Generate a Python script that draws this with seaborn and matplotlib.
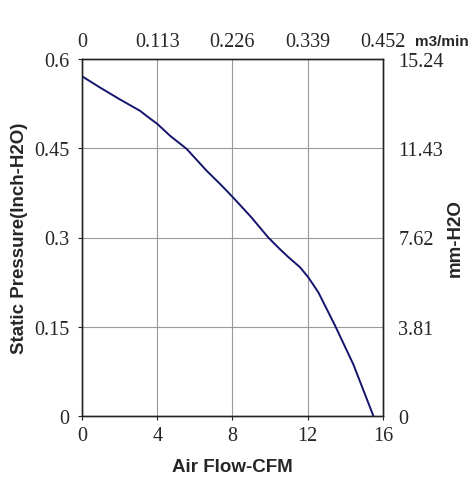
import matplotlib
matplotlib.use("Agg")
import matplotlib.pyplot as plt
import seaborn as sns
import pandas as pd

# Data
cfm = [0, 0.96, 2.02, 3.08, 3.53, 4.0, 4.68, 5.56, 6.63, 7.34, 8.04, 9.0, 9.9, 10.5, 10.97, 11.59, 12.03, 12.56, 13.45, 14.42, 15.49]
pressure = [0.571, 0.552, 0.532, 0.513, 0.502, 0.491, 0.471, 0.449, 0.412, 0.390, 0.367, 0.334, 0.300, 0.281, 0.267, 0.250, 0.233, 0.208, 0.152, 0.087, 0.0]

x_ticks = [0, 4, 8, 12, 16]
y_ticks = [0, 0.15, 0.3, 0.45, 0.6]
y_tick_labels = ["0", "0.15", "0.3", "0.45", "0.6"]
top_tick_labels = ["0", "0.113", "0.226", "0.339", "0.452"]
right_tick_labels = ["0", "3.81", "7.62", "11.43", "15.24"]

sns.set_style("white")
plt.rcParams['font.family'] = ['Liberation Serif', 'DejaVu Serif']

fig = plt.figure(figsize=(4.75, 4.85), dpi=100)
ax = fig.add_axes([82/475, 1-417/485, (383-82)/475, (417-60)/485])

df = pd.DataFrame({"cfm": cfm, "pressure": pressure})
sns.lineplot(data=df, x="cfm", y="pressure", ax=ax, color="#14146e", linewidth=1.4)

TICK_FS = 14.5
LAB_FS = 13.5

ax.set_xlim(0, 16)
ax.set_ylim(0, 0.6)
ax.set_xticks(x_ticks)
ax.set_xticklabels([str(t) for t in x_ticks], fontsize=TICK_FS)
ax.set_yticks(y_ticks)
ax.set_yticklabels(y_tick_labels, fontsize=TICK_FS)
ax.grid(True, color="#999999", linewidth=0.8)
for s in ax.spines.values():
    s.set_color("#222222")
    s.set_linewidth(0.9)
ax.tick_params(axis="x", length=3, width=0.8, color="#222222", pad=4)
ax.tick_params(axis="y", length=3, width=0.8, color="#222222", pad=6)

ax.set_xlabel("Air Flow-CFM", family="Liberation Sans", fontweight="bold", fontsize=LAB_FS, labelpad=9.5)
ax.set_ylabel("Static Pressure(Inch-H2O)", family="Liberation Sans", fontweight="bold", fontsize=LAB_FS, labelpad=4.5)

# top axis
axt = ax.twiny()
axt.set_xlim(0, 16)
axt.set_xticks(x_ticks)
axt.set_xticklabels(top_tick_labels, fontsize=TICK_FS)
axt.tick_params(axis="x", length=0, pad=6)

# right axis
axr = ax.twinx()
axr.set_ylim(0, 0.6)
axr.set_yticks(y_ticks)
axr.set_yticklabels(right_tick_labels, fontsize=TICK_FS)
axr.tick_params(axis="y", length=0, pad=11)
axr.set_ylabel("mm-H2O", family="Liberation Sans", fontweight="bold", fontsize=LAB_FS, labelpad=2)
axr.grid(False); axt.grid(False)
for a in (axt, axr):
    for s in a.spines.values():
        s.set_color("#222222")
        s.set_linewidth(0.9)

fig.text(442/475, 1-42/485, "m3/min", family="Liberation Sans", fontweight="bold", fontsize=11, ha="center", va="center")

fig.savefig("out.png", dpi=100)
